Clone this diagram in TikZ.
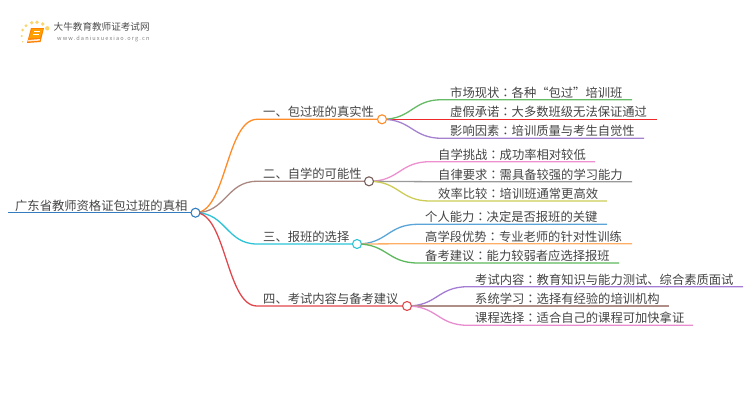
\documentclass[tikz,border=0pt]{standalone}
\usepackage{fontspec}
\setmainfont{Noto Sans CJK SC}
\newfontfamily\tcf{Noto Sans CJK TC}
\newcommand{\cln}{{\tcf ：}}
\usetikzlibrary{calc,backgrounds}
\definecolor{txt}{HTML}{444444}
\definecolor{c0}{HTML}{327DBE}\definecolor{c1}{HTML}{FF8C28}\definecolor{c2}{HTML}{A98780}\definecolor{c3}{HTML}{2DC3D6}\definecolor{c4}{HTML}{E0474C}
\definecolor{g1}{HTML}{66BB66}\definecolor{r1}{HTML}{F02828}\definecolor{p1}{HTML}{A582D0}
\definecolor{pk}{HTML}{EE90D0}\definecolor{gy}{HTML}{999999}\definecolor{ol}{HTML}{CCCC55}
\definecolor{bl}{HTML}{5AA5D8}\definecolor{og}{HTML}{FFAE66}\definecolor{gn}{HTML}{5CB85C}
\definecolor{pu}{HTML}{A57CD4}\definecolor{br}{HTML}{B08E88}\definecolor{mg}{HTML}{E88CD0}
\definecolor{sun}{HTML}{FBD56E}
\tikzset{
  x=1pt,y=-1pt,
  lbl/.style={anchor=south west,inner sep=0pt,text=txt,font=\fontsize{12.3}{13}\selectfont},
  link/.style={line width=1.3pt},
  dot/.style={circle,draw,fill=white,line width=1.1pt,minimum size=9pt,inner sep=0pt},
}
\newcommand{\curveto}[4]{%
  \coordinate (mid) at ($(#1.center)!0.5!(#2)$);
  \begin{scope}[on background layer]
  \draw[link,#3] (#1.center) .. controls (mid |- #1.center) and (mid |- #2) .. (#2) -- (#4);
  \end{scope}
}
\begin{document}
\begin{tikzpicture}
\useasboundingbox (0,0) rectangle (750,410);

% logo
\foreach \xx/\yy/\rr in {21.7/36/1.2,22.7/30/1.5,26/25.7/1.6,31.7/22.7/1.9,37/22.3/1.9,42.7/24/1.9,47.3/28.3/2.2,22.7/41.7/0.8}
  \fill[sun] (\xx,\yy) circle (\rr);
\fill[orange] (31,28) -- (44,28) -- (40.5,42) -- (27,43) -- cycle;
\fill[orange!75!yellow] (32,29) -- (43,29) -- (40,38) -- (29,38.5) -- cycle;
\fill[orange!15] (28.3,40) -- (40,39) -- (39.6,40.6) -- (28,41.5) -- cycle;
\draw[white,line width=0.5pt] (34,31.5) -- (40,31.5) (33.4,34) -- (39.4,34);
\node[anchor=west,inner sep=0pt,text=black!70,font=\fontsize{9.6}{10}\selectfont] (brand) at (53.5,27) {大牛教育教师证考试网};
\node[anchor=west,inner sep=0pt,text=black!50,font=\fontsize{5.6}{6}\selectfont\addfontfeature{LetterSpace=20}] (site) at (57,39) {www.daniuxuexiao.org.cn};

% hubs
\node[dot,draw=c0] (root) at (195.5,212.7) {};
\node[dot,draw=c1] (h1) at (382,119.3) {};
\node[dot,draw=c2!70!black] (h2) at (369,181.3) {};
\node[dot,draw=c3] (h3) at (357,244) {};
\node[dot,draw=c4] (h4) at (407,306) {};

% root
\coordinate (rs) at (8,212.7);
\begin{scope}[on background layer]
\draw[link,c0] (rs) -- (root.center);
\end{scope}
\node[lbl] (rt) at (15,211.5) {广东省教师资格证包过班的真相};

% main branches
\coordinate (b1) at (257,119.3);
\coordinate (b2) at (257,181.3);
\coordinate (b3) at (257,244);
\coordinate (b4) at (257,306);
\curveto{root}{b1}{c1}{h1.center}
\curveto{root}{b2}{c2}{h2.center}
\curveto{root}{b3}{c3}{h3.center}
\curveto{root}{b4}{c4}{h4.center}
\node[lbl] (t1) at (263,118) {一、包过班的真实性};
\node[lbl] (t2) at (263,180) {二、自学的可能性};
\node[lbl] (t3) at (263,242.7) {三、报班的选择};
\node[lbl] (t4) at (263,304.7) {四、考试内容与备考建议};

% leaves of 1
\coordinate (a1) at (442,99.7); \coordinate (a1e) at (632,99.7);
\coordinate (a2) at (442,119.3); \coordinate (a2e) at (657,119.3);
\coordinate (a3) at (442,138.3); \coordinate (a3e) at (644,138.3);
\curveto{h1}{a1}{g1}{a1e}
\curveto{h1}{a2}{r1}{a2e}
\curveto{h1}{a3}{p1}{a3e}
\node[lbl] (l11) at (450,98.5) {市场现状\cln 各种“包过”培训班};
\node[lbl] (l12) at (450,118) {虚假承诺\cln 大多数班级无法保证通过};
\node[lbl] (l13) at (450,137) {影响因素\cln 培训质量与考生自觉性};

% leaves of 2
\coordinate (d1) at (430,161.7); \coordinate (d1e) at (595,161.7);
\coordinate (d2) at (430,181.7); \coordinate (d2e) at (632,181.7);
\coordinate (d3) at (430,201);   \coordinate (d3e) at (607,201);
\curveto{h2}{d1}{pk}{d1e}
\curveto{h2}{d2}{gy}{d2e}
\curveto{h2}{d3}{ol}{d3e}
\node[lbl] (l21) at (438,160.4) {自学挑战\cln 成功率相对较低};
\node[lbl] (l22) at (438,180.4) {自律要求\cln 需具备较强的学习能力};
\node[lbl] (l23) at (438,199.7) {效率比较\cln 培训班通常更高效};

% leaves of 3
\coordinate (e1) at (418,224.3); \coordinate (e1e) at (607,224.3);
\coordinate (e2) at (418,243.7); \coordinate (e2e) at (632,243.7);
\coordinate (e3) at (418,263);   \coordinate (e3e) at (619,263);
\curveto{h3}{e1}{bl}{e1e}
\curveto{h3}{e2}{og}{e2e}
\curveto{h3}{e3}{gn}{e3e}
\node[lbl] (l31) at (425,223) {个人能力\cln 决定是否报班的关键};
\node[lbl] (l32) at (425,242.4) {高学段优势\cln 专业老师的针对性训练};
\node[lbl] (l33) at (425,261.7) {备考建议\cln 能力较弱者应选择报班};

% leaves of 4
\coordinate (f1) at (468,286.7); \coordinate (f1e) at (743,286.7);
\coordinate (f2) at (468,306);   \coordinate (f2e) at (669,306);
\coordinate (f3) at (468,325.3); \coordinate (f3e) at (693,325.3);
\curveto{h4}{f1}{pu}{f1e}
\curveto{h4}{f2}{br}{f2e}
\curveto{h4}{f3}{mg}{f3e}
\node[lbl] (l41) at (475,285.4) {考试内容\cln 教育知识与能力测试、综合素质面试};
\node[lbl] (l42) at (475,304.7) {系统学习\cln 选择有经验的培训机构};
\node[lbl] (l43) at (475,324) {课程选择\cln 适合自己的课程可加快拿证};
\end{tikzpicture}
\end{document}
